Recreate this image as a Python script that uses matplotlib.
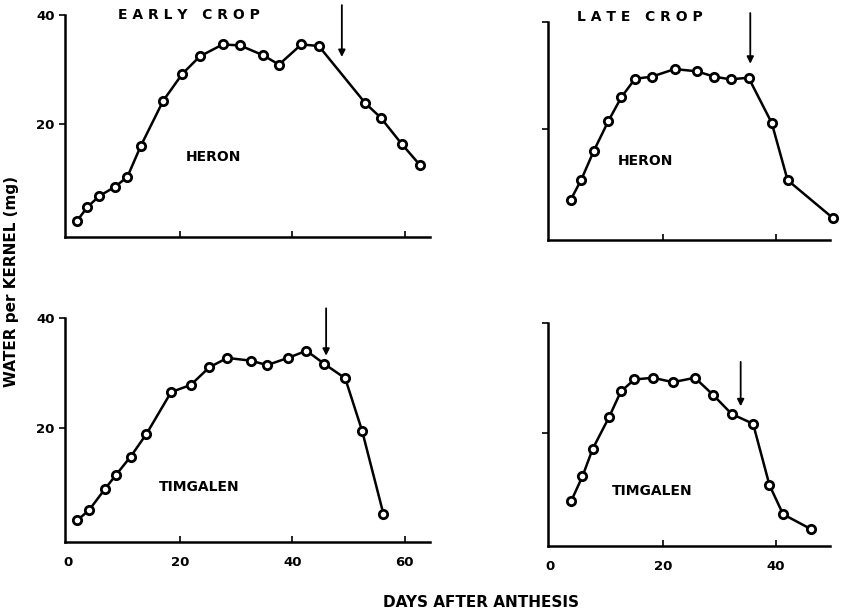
import numpy as np
import matplotlib.pyplot as plt

plt.rcParams['font.family'] = ['DejaVu Sans']
plt.rcParams['font.weight'] = 'bold'

# early crop, Heron
days_eh = [1.6, 3.5, 5.6, 8.4, 10.6, 13.0, 17.0, 20.4, 23.5, 27.6, 30.7, 34.8, 37.6, 41.6, 44.7, 53.0, 55.7, 59.5, 62.7]
water_eh = [2.2, 4.8, 6.8, 8.5, 10.3, 16.0, 24.3, 29.2, 32.4, 34.6, 34.4, 32.6, 30.9, 34.6, 34.3, 23.8, 21.2, 16.3, 12.5]

# late crop, Heron
days_lh = [3.7, 5.6, 7.8, 10.4, 12.7, 15.1, 18.1, 22.1, 26.0, 29.1, 32.0, 35.2, 39.3, 42.1, 50.2]
water_lh = [6.9, 10.7, 16.0, 21.6, 26.0, 29.4, 29.8, 31.2, 30.8, 29.8, 29.3, 29.6, 21.2, 10.6, 3.5]

# early crop, Timgalen
days_et = [1.65, 3.8, 6.6, 8.6, 11.2, 14.0, 18.4, 21.9, 25.2, 28.4, 32.6, 35.5, 39.2, 42.5, 45.7, 49.4, 52.4, 56.2]
water_et = [3.2, 5.1, 8.9, 11.5, 14.8, 18.9, 26.5, 27.8, 31.0, 32.7, 32.2, 31.4, 32.7, 34.0, 31.6, 29.0, 19.5, 4.4]

# late crop, Timgalen
days_lt = [3.8, 5.8, 7.6, 10.5, 12.6, 15.0, 18.3, 21.8, 25.7, 28.9, 32.2, 36.0, 38.9, 41.3, 46.2]
water_lt = [7.5, 12.0, 17.0, 22.8, 27.5, 29.7, 30.0, 29.2, 30.0, 26.9, 23.4, 21.6, 10.4, 5.1, 2.4]

# harvest arrows (day, top, tip)
arrow_eh = (48.8, 41.8, 32.3)
arrow_lh = (35.5, 41.6, 32.2)
arrow_et = (46.0, 41.7, 33.1)
arrow_lt = (33.8, 32.9, 24.8)

xt_early = [0, 20, 40, 60]
xt_late = [0, 20, 40]
yt = [20, 40]


def panel(fig, rect, days, water, arrow, xlim, ylim, xticks, variety, vpos,
          crop=None, cpos=None, show_x=False, show_y=False):
    ax = fig.add_axes(rect)
    ax.plot(days, water, color='black', lw=1.8, marker='o', ms=6,
            mfc='white', mec='black', mew=2, clip_on=False, zorder=3)
    ax.annotate('', xy=(arrow[0], arrow[2]), xytext=(arrow[0], arrow[1]),
                annotation_clip=False,
                arrowprops=dict(arrowstyle='-|>', color='black', lw=1.3,
                                mutation_scale=10, shrinkA=0, shrinkB=0))
    ax.set_xlim(*xlim)
    ax.set_ylim(*ylim)
    for s in ['top', 'right']:
        ax.spines[s].set_visible(False)
    for s in ['left', 'bottom']:
        ax.spines[s].set_linewidth(1.8)
    ax.set_xticks([t for t in xticks if t > 0] if not show_x else xticks)
    ax.set_yticks(yt)
    ax.tick_params(axis='x', direction='in', length=4, width=1.2, labelsize=9.5, pad=10)
    ax.tick_params(axis='y', direction='out', length=4, width=1.2, labelsize=9.5)
    if show_x:
        ax.set_xticklabels(['%d' % t for t in xticks], fontweight='bold')
        ax.xaxis.get_major_ticks()[0].tick1line.set_visible(False)
    else:
        ax.set_xticklabels([])
    if show_y:
        ax.set_yticklabels(['%d' % t for t in yt], fontweight='bold')
    else:
        ax.set_yticklabels([])
    ax.text(vpos[0], vpos[1], variety, ha='center', va='center',
            fontsize=10, fontweight='bold')
    if crop is not None:
        ax.text(cpos[0], cpos[1], crop, ha='left', va='center',
                fontsize=10, fontweight='bold', clip_on=False)
    return ax


fig = plt.figure(figsize=(8.42, 6.10), dpi=100)

panel(fig, [0.0772, 0.6115, 0.4335, 0.364], days_eh, water_eh, arrow_eh,
      (-0.5, 64.5), (-0.7, 40), xt_early, 'HERON', (25.9, 14.0),
      crop='E A R L Y   C R O P', cpos=(8.9, 40.0), show_y=True)
panel(fig, [0.6508, 0.6066, 0.3349, 0.3579], days_lh, water_lh, arrow_lh,
      (-0.3, 49.6), (-0.5, 40), xt_late, 'HERON', (16.9, 14.2),
      crop='L A T E   C R O P', cpos=(4.8, 40.8))
panel(fig, [0.0772, 0.1115, 0.4335, 0.3677], days_et, water_et, arrow_et,
      (-0.5, 64.5), (-0.7, 40), xt_early, 'TIMGALEN', (23.4, 9.2),
      show_x=True, show_y=True)
panel(fig, [0.6508, 0.1049, 0.3349, 0.3656], days_lt, water_lt, arrow_lt,
      (-0.3, 49.6), (-0.7, 40), xt_late, 'TIMGALEN', (18.2, 9.3),
      show_x=True)

fig.text(0.014, 0.538, 'WATER per KERNEL (mg)', rotation=90, ha='center',
         va='center', fontsize=11, fontweight='bold')
fig.text(0.571, 0.0115, 'DAYS AFTER ANTHESIS', ha='center', va='center',
         fontsize=11, fontweight='bold')

fig.savefig('out.png', dpi=100)
